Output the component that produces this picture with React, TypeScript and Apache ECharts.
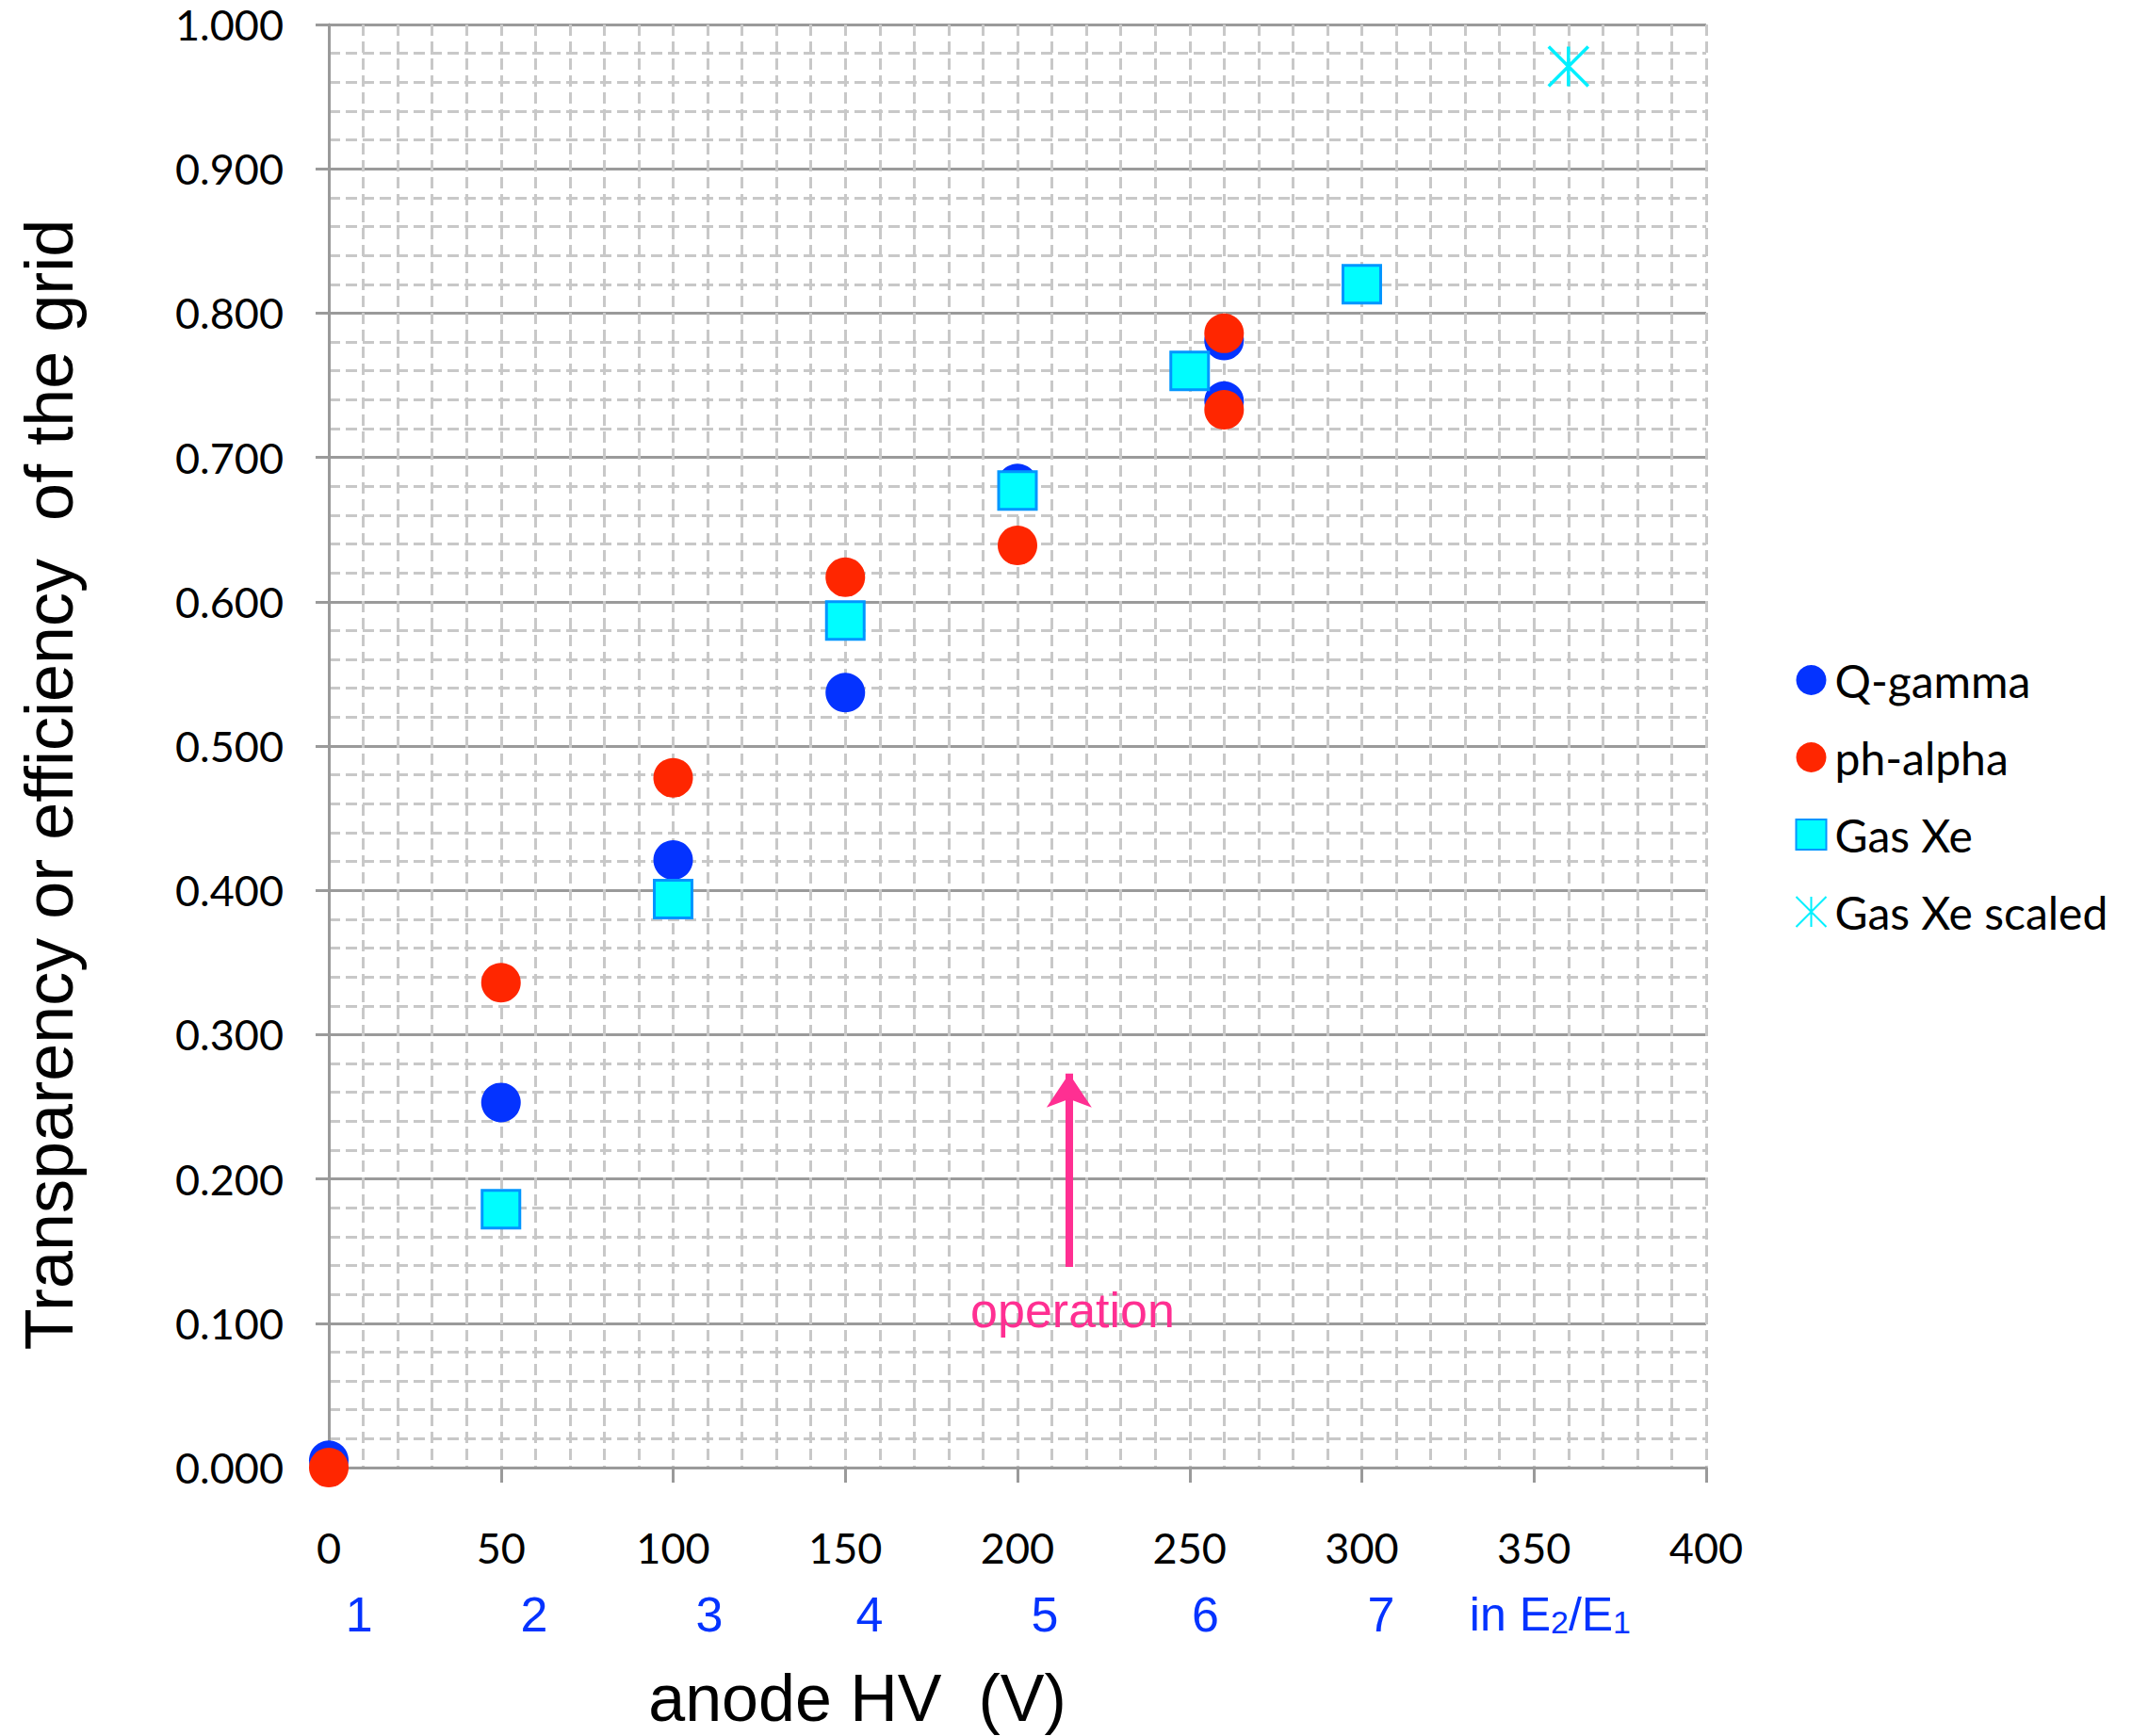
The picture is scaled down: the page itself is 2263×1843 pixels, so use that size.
import React, { useEffect, useRef } from "react";
import * as echarts from "echarts";

// ---- data ----
const qGammaX = [0, 50, 100, 150, 200, 260, 260];
const qGammaY = [0.005, 0.253, 0.421, 0.537, 0.682, 0.781, 0.739];
const phAlphaX = [0, 50, 100, 150, 200, 260, 260];
const phAlphaY = [0.0, 0.336, 0.478, 0.617, 0.639, 0.786, 0.733];
const gasXeX = [50, 100, 150, 200, 250, 300];
const gasXeY = [0.179, 0.394, 0.587, 0.677, 0.76, 0.82];
const gasXeScaledX = [360];
const gasXeScaledY = [0.971];

const seriesNames = ["Q-gamma", "ph-alpha", "Gas Xe", "Gas Xe scaled"];

// secondary "E2/E1" scale labels, placed at these HV values
const ratioLabels = ["1", "2", "3", "4", "5", "6", "7"];
const ratioLabelX = [8.8, 59.6, 110.5, 157, 207.9, 254.6, 305.6];
const ratioUnitX = 354.7;

// operation arrow (HV value, from / to efficiency)
const operationX = 215;
const operationFrom = 0.139;
const operationTo = 0.273;
const operationText = "operation";

const xTitle = "anode HV  (V)";
const yTitle = "Transparency or efficiency  of the grid";

const pair = (xs: number[], ys: number[]) => xs.map((x, i) => [x, ys[i]]);

export default function App() {
  const ref = useRef<HTMLDivElement>(null);

  useEffect(() => {
    document.body.style.margin = "0";
    if (!ref.current) return;
    const chart = echarts.init(ref.current, undefined, { renderer: "svg" });

    const dashed = { color: "#c8c8c8", width: 3, type: [12, 6] as any };
    const option: any = {
      animation: false,
      backgroundColor: "#ffffff",
      grid: { left: 349, right: 452, top: 26, bottom: 277, containLabel: false },
      legend: {
        orient: "vertical",
        left: 1899,
        top: 693,
        itemWidth: 32,
        itemHeight: 32,
        itemGap: 34,
        data: seriesNames,
        textStyle: { fontFamily: "Lato", fontSize: 48, color: "#000", padding: [0, 0, 0, 4] },
      },
      xAxis: {
        type: "value",
        min: 0,
        max: 400,
        interval: 50,
        name: xTitle,
        nameLocation: "middle",
        nameGap: 210,
        nameTextStyle: {
          fontFamily: "Liberation Sans",
          fontSize: 70,
          color: "#000",
          padding: [0, 340, 0, 0],
        },
        axisLine: { show: true, lineStyle: { color: "#9a9a9a", width: 3 } },
        axisTick: { show: true, inside: false, length: 16, lineStyle: { color: "#9a9a9a", width: 3 } },
        axisLabel: { fontFamily: "Lato", fontSize: 45, color: "#000", margin: 62 },
        splitLine: { show: true, lineStyle: dashed },
        minorTick: { show: false, splitNumber: 5 },
        minorSplitLine: { show: true, lineStyle: dashed },
      },
      yAxis: {
        type: "value",
        min: 0,
        max: 1,
        interval: 0.1,
        name: yTitle,
        nameLocation: "middle",
        nameRotate: 90,
        nameGap: 261,
        nameTextStyle: {
          fontFamily: "Liberation Sans",
          fontSize: 72,
          color: "#000",
          padding: [0, 82, 0, 0],
        },
        axisLine: { show: true, lineStyle: { color: "#9a9a9a", width: 3 } },
        axisTick: { show: true, inside: false, length: 14, lineStyle: { color: "#9a9a9a", width: 3 } },
        axisLabel: {
          fontFamily: "Lato",
          fontSize: 45,
          color: "#000",
          margin: 48,
          formatter: (v: number) => v.toFixed(3),
        },
        splitLine: { show: true, lineStyle: { color: "#9a9a9a", width: 3 } },
        minorTick: { show: false, splitNumber: 5 },
        minorSplitLine: { show: true, lineStyle: dashed },
      },
      series: [
        {
          name: seriesNames[0],
          type: "scatter",
          symbol: "circle",
          symbolSize: 42,
          itemStyle: { color: "#0433ff", opacity: 1 },
          data: pair(qGammaX, qGammaY),
          markLine: {
            silent: true,
            symbol: ["none", "arrow"],
            symbolSize: [36, 36],
            label: { show: false },
            lineStyle: { color: "#ff2f92", width: 8, type: "solid", opacity: 1 },
            data: [[{ coord: [operationX, operationFrom] }, { coord: [operationX, operationTo] }]],
          },
        },
        {
          name: seriesNames[1],
          type: "scatter",
          symbol: "circle",
          symbolSize: 42,
          itemStyle: { color: "#ff2600", opacity: 1 },
          data: pair(phAlphaX, phAlphaY),
        },
        {
          name: seriesNames[2],
          type: "scatter",
          symbol: "rect",
          symbolSize: 40,
          itemStyle: { color: "#00fdff", borderColor: "#0096ff", borderWidth: 3, opacity: 1 },
          data: pair(gasXeX, gasXeY),
        },
        {
          name: seriesNames[3],
          type: "scatter",
          symbol: "path://M0,0L40,40M40,0L0,40M20,0L20,40",
          symbolSize: 42,
          itemStyle: { color: "none", borderColor: "#00f0ff", borderWidth: 3.5, opacity: 1 },
          data: pair(gasXeScaledX, gasXeScaledY),
        },
      ],
    };
    chart.setOption(option);

    const labelY = -0.102;
    const graphics: any[] = ratioLabels.map((t, i) => {
      const p = chart.convertToPixel({ gridIndex: 0 }, [ratioLabelX[i], labelY]) as number[];
      return {
        type: "text",
        x: p[0],
        y: p[1],
        style: {
          text: t,
          fontFamily: "Liberation Sans",
          fontSize: 52,
          fill: "#0433ff",
          align: "center",
          verticalAlign: "middle",
        },
      };
    });
    const pu = chart.convertToPixel({ gridIndex: 0 }, [ratioUnitX, labelY]) as number[];
    graphics.push({
      type: "text",
      x: pu[0],
      y: pu[1],
      style: {
        text: "{n|in E}{s|2}{n|/E}{s|1}",
        align: "center",
        verticalAlign: "middle",
        rich: {
          n: { fontFamily: "Liberation Sans", fontSize: 50, fill: "#0433ff", color: "#0433ff", verticalAlign: "bottom" },
          s: { fontFamily: "Liberation Sans", fontSize: 34, fill: "#0433ff", color: "#0433ff", verticalAlign: "bottom" },
        },
      },
    });
    const po = chart.convertToPixel({ gridIndex: 0 }, [operationX + 1, operationFrom - 0.03]) as number[];
    graphics.push({
      type: "text",
      x: po[0],
      y: po[1],
      style: {
        text: operationText,
        fontFamily: "Liberation Sans",
        fontSize: 52,
        fill: "#ff2f92",
        align: "center",
        verticalAlign: "middle",
      },
    });
    chart.setOption({ graphic: graphics });

    return () => chart.dispose();
  }, []);

  return <div ref={ref} style={{ width: 2263, height: 1843 }} />;
}
